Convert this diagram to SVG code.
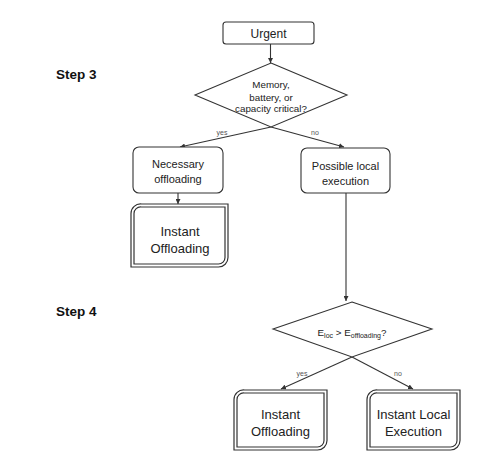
<svg xmlns="http://www.w3.org/2000/svg" width="502" height="462" viewBox="0 0 502 462">
<style>
text{font-family:"Liberation Sans",Arial,sans-serif;fill:#222;text-anchor:middle}
.box{fill:#fff;stroke:#333;stroke-width:1.1}
.dia{fill:#fff;stroke:#333;stroke-width:1.1}
.dbo{fill:#fff;stroke:#333;stroke-width:4.2}
.dbi{fill:none;stroke:#fff;stroke-width:1.8}
.con{fill:none;stroke:#333;stroke-width:1.1}
.lbl{font-size:7px;fill:#555}
.step{font-size:13.5px;font-weight:bold;text-anchor:start;fill:#111}
.t10{font-size:9.8px}.t11{font-size:11px}.t12{font-size:12px}.t13{font-size:13px}
</style>
<defs>
<marker id="ah" viewBox="0 0 10 10" refX="10" refY="5" markerWidth="5" markerHeight="5" orient="auto" markerUnits="userSpaceOnUse">
<path d="M0,0 L10,5 L0,10 z" fill="#333"/>
</marker>
</defs>
<rect width="502" height="462" fill="#fff"/>
<text class="step" x="56" y="79">Step 3</text>
<text class="step" x="56" y="316">Step 4</text>
<g id="connectors">
<line class="con" x1="270.5" y1="44" x2="270.5" y2="63" marker-end="url(#ah)"/>
<line class="con" x1="271" y1="127" x2="180" y2="147" marker-end="url(#ah)"/>
<line class="con" x1="271" y1="127" x2="344" y2="147" marker-end="url(#ah)"/>
<line class="con" x1="178" y1="193" x2="178" y2="204" marker-end="url(#ah)"/>
<line class="con" x1="346" y1="193" x2="346" y2="301" marker-end="url(#ah)"/>
<line class="con" x1="352" y1="357" x2="281" y2="389" marker-end="url(#ah)"/>
<line class="con" x1="352" y1="357" x2="413" y2="389" marker-end="url(#ah)"/>
<text class="lbl" x="222" y="135">yes</text>
<text class="lbl" x="315" y="135">no</text>
<text class="lbl" x="302" y="376">yes</text>
<text class="lbl" x="398" y="376">no</text>
</g>
<g id="urgent">
<rect class="box" x="223" y="22" width="91" height="22" rx="3"/>
<text class="t12" x="268.5" y="38">Urgent</text>
</g>
<g id="decision1">
<polygon class="dia" points="271,63 347,95 271,127 195,95"/>
<text class="t10" x="271" y="88">Memory,</text>
<text class="t10" x="271" y="100.5">battery, or</text>
<text class="t10" x="271" y="112">capacity critical?</text>
</g>
<g id="necessary">
<rect class="box" x="133" y="147" width="90" height="46" rx="6"/>
<text class="t11" x="178" y="168">Necessary</text>
<text class="t11" x="178" y="183">offloading</text>
</g>
<g id="possible">
<rect class="box" x="301" y="148" width="89" height="45" rx="6"/>
<text class="t11" x="345.5" y="170">Possible local</text>
<text class="t11" x="345.5" y="185">execution</text>
</g>
<g id="offload1">
<path class="dbo" d="M141.5,205.5 H226.5 V257.5 A8,8 0 0 1 218.5,265.5 H132.5 V213.5 A8,8 0 0 1 141.5,205.5 Z"/>
<path class="dbi" d="M141.5,205.5 H226.5 V257.5 A8,8 0 0 1 218.5,265.5 H132.5 V213.5 A8,8 0 0 1 141.5,205.5 Z"/>
<text class="t13" x="180" y="235.5">Instant</text>
<text class="t13" x="180" y="252.5">Offloading</text>
</g>
<g id="decision2">
<polygon class="dia" points="352,302 432,329 352,357 273,329"/>
<text class="t10" x="352" y="336">E<tspan font-size="7" dy="2">loc</tspan><tspan dy="-2"> &gt; E</tspan><tspan font-size="7" dy="2">offloading</tspan><tspan dy="-2">?</tspan></text>
</g>
<g id="offload2">
<path class="dbo" d="M244.5,391.5 H325.5 V440.5 A8,8 0 0 1 317.5,448.5 H235.5 V399.5 A8,8 0 0 1 244.5,391.5 Z"/>
<path class="dbi" d="M244.5,391.5 H325.5 V440.5 A8,8 0 0 1 317.5,448.5 H235.5 V399.5 A8,8 0 0 1 244.5,391.5 Z"/>
<text class="t13" x="280.5" y="418.5">Instant</text>
<text class="t13" x="280.5" y="435.5">Offloading</text>
</g>
<g id="local">
<path class="dbo" d="M377.5,391.5 H458.5 V440.5 A8,8 0 0 1 450.5,448.5 H368.5 V399.5 A8,8 0 0 1 377.5,391.5 Z"/>
<path class="dbi" d="M377.5,391.5 H458.5 V440.5 A8,8 0 0 1 450.5,448.5 H368.5 V399.5 A8,8 0 0 1 377.5,391.5 Z"/>
<text class="t13" x="413.5" y="418.5">Instant Local</text>
<text class="t13" x="413.5" y="435.5">Execution</text>
</g>
</svg>
